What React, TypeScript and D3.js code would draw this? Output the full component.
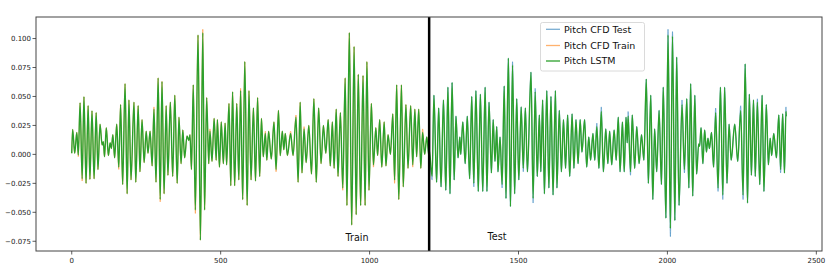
import React, { useEffect, useRef } from "react";
import * as d3 from "d3";

// CFD pitch extrema, [timestep, value]
const cfdTrain: [number, number][] = [
  [0, 0.001], [3, 0.0215], [10, 0.001], [17, 0.019], [22, -0.002], [28, 0.0445],
  [35, -0.023], [41, 0.0497], [48, -0.025], [55, 0.042], [61, -0.0215], [68, 0.0376],
  [75, -0.021], [82, 0.036], [88, -0.013], [95, 0.026], [102, 0.008], [106, 0.011],
  [110, -0.002], [116, 0.023], [123, -0.001], [129, 0.01], [133, 0.005], [138, 0.017],
  [144, -0.003], [151, 0.026], [158, -0.013], [164, 0.043], [171, -0.026], [179, 0.061],
  [186, -0.034], [192, 0.047], [199, -0.022], [209, 0.045], [215, -0.024], [223, 0.042],
  [229, -0.015], [236, 0.03], [243, -0.007], [250, 0.02], [256, 0.001], [263, 0.02],
  [270, -0.01], [276, 0.041], [283, -0.024], [290, 0.066], [297, -0.041], [303, 0.063],
  [310, -0.034], [317, 0.042], [323, -0.018], [331, 0.045], [339, -0.019], [346, 0.051],
  [354, -0.025], [360, 0.032], [367, -0.008], [373, 0.021], [379, -0.003], [387, 0.016],
  [393, 0.012], [397, 0.017], [402, -0.013], [408, 0.06], [415, -0.051], [424, 0.103],
  [432, -0.074], [440, 0.108], [446, -0.048], [453, 0.049], [460, -0.008], [464, 0.022],
  [471, -0.006], [478, 0.031], [485, -0.005], [489, 0.03], [496, -0.011], [502, 0.028],
  [509, -0.008], [515, 0.027], [520, -0.009], [528, 0.044], [534, -0.027], [540, 0.054],
  [547, -0.027], [554, 0.044], [561, -0.022], [567, 0.057], [574, -0.039], [581, 0.08],
  [589, -0.044], [595, 0.055], [602, -0.022], [610, 0.04], [617, -0.023], [624, 0.049],
  [631, -0.019], [637, 0.031], [643, -0.002], [650, 0.02], [655, -0.005], [661, 0.02],
  [670, -0.004], [679, 0.028], [686, -0.015], [694, 0.038], [700, -0.001], [707, 0.02],
  [712, 0.004], [717, 0.018], [724, -0.001], [735, 0.02], [743, -0.001], [753, 0.034],
  [760, -0.024], [767, 0.045], [773, -0.016], [780, 0.024], [787, -0.007], [796, 0.025],
  [805, -0.017], [813, 0.048], [821, -0.024], [829, 0.04], [837, -0.008], [845, 0.025],
  [853, 0.001], [861, 0.03], [868, -0.01], [875, 0.028], [881, -0.012], [888, 0.039],
  [894, -0.019], [902, 0.036], [910, -0.031], [918, 0.066], [924, -0.044], [932, 0.105],
  [940, -0.061], [948, 0.093], [955, -0.052], [962, 0.069], [970, -0.044], [978, 0.068],
  [985, -0.044], [991, 0.08], [998, -0.031], [1006, 0.044], [1013, -0.011], [1021, 0.023],
  [1027, -0.001], [1034, 0.03], [1041, -0.011], [1049, 0.028], [1055, -0.01], [1062, 0.017],
  [1070, 0.0], [1078, 0.035], [1084, -0.025], [1091, 0.06], [1098, -0.039], [1107, 0.06],
  [1113, -0.028], [1122, 0.043], [1129, -0.012], [1138, 0.042], [1145, -0.011], [1152, 0.039],
  [1158, -0.002], [1165, 0.039], [1172, -0.012], [1178, 0.022], [1185, 0.0], [1192, 0.015],
  [1199, -0.001],
];

const cfdTest: [number, number][] = [
  [1200, 0.004], [1210, -0.022], [1216, 0.051], [1225, -0.024], [1232, 0.04], [1240, -0.028],
  [1248, 0.047], [1256, -0.031], [1263, 0.058], [1270, -0.034], [1277, 0.062], [1284, -0.022],
  [1290, 0.033], [1297, -0.003], [1303, 0.015], [1306, 0.0], [1313, 0.028], [1321, -0.008],
  [1328, 0.033], [1336, -0.021], [1343, 0.05], [1350, -0.028], [1357, 0.055], [1365, -0.032],
  [1372, 0.052], [1380, -0.032], [1388, 0.058], [1394, -0.032], [1401, 0.045], [1409, -0.016],
  [1415, 0.03], [1421, -0.006], [1427, 0.024], [1431, -0.015], [1438, 0.015], [1445, -0.029],
  [1452, 0.059], [1458, -0.038], [1466, 0.083], [1473, -0.045], [1480, 0.08], [1487, -0.034],
  [1494, 0.048], [1501, -0.022], [1509, 0.041], [1516, -0.015], [1523, 0.04], [1530, -0.015],
  [1542, 0.071], [1549, -0.042], [1556, 0.057], [1563, -0.019], [1570, 0.034], [1575, -0.015],
  [1581, 0.047], [1587, -0.034], [1595, 0.055], [1602, -0.029], [1609, 0.05], [1616, -0.035],
  [1624, 0.055], [1629, -0.029], [1637, 0.038], [1644, -0.015], [1651, 0.03], [1658, -0.012],
  [1665, 0.034], [1672, -0.019], [1680, 0.035], [1686, -0.012], [1693, 0.03], [1700, -0.008],
  [1707, 0.03], [1713, 0.002], [1722, 0.03], [1729, -0.011], [1736, 0.015], [1742, -0.005],
  [1750, 0.018], [1756, -0.005], [1763, 0.027], [1770, -0.012], [1778, 0.041], [1785, -0.015],
  [1793, 0.022], [1800, -0.008], [1806, 0.02], [1813, -0.009], [1821, 0.021], [1828, -0.005],
  [1835, 0.032], [1841, -0.015], [1849, 0.028], [1855, -0.015], [1861, 0.032], [1865, 0.01],
  [1868, 0.037], [1876, -0.018], [1882, 0.034], [1890, -0.012], [1897, 0.024], [1905, -0.008],
  [1913, 0.017], [1921, -0.005], [1929, 0.065], [1936, -0.025], [1944, 0.051], [1951, -0.039],
  [1957, 0.022], [1964, -0.015], [1972, 0.038], [1980, -0.026], [1986, 0.058], [1995, -0.055],
  [2002, 0.108], [2010, -0.071], [2017, 0.106], [2025, -0.057], [2031, 0.084], [2039, -0.044],
  [2049, 0.047], [2057, -0.016], [2065, 0.048], [2072, -0.029], [2078, 0.061], [2085, -0.036],
  [2092, 0.051], [2098, -0.017], [2105, 0.009], [2108, 0.007], [2113, 0.023], [2119, -0.008],
  [2125, 0.021], [2131, 0.002], [2136, 0.014], [2141, 0.005], [2148, 0.019], [2155, -0.011],
  [2162, 0.04], [2170, -0.032], [2178, 0.058], [2186, -0.039], [2192, 0.058], [2200, -0.025],
  [2207, 0.026], [2214, -0.005], [2226, 0.026], [2236, -0.006], [2246, 0.042], [2254, -0.039],
  [2261, 0.078], [2269, -0.042], [2275, 0.052], [2282, -0.018], [2289, 0.047], [2295, -0.019],
  [2302, 0.048], [2310, -0.026], [2318, 0.051], [2324, -0.032], [2332, 0.043], [2339, -0.009],
  [2345, 0.014], [2350, -0.001], [2357, 0.018], [2366, -0.003], [2374, 0.034], [2380, -0.016],
  [2387, 0.035], [2393, -0.016], [2398, 0.041], [2399, 0.033],
];

// peaks where the LSTM prediction falls short of CFD (rest of LSTM sits on CFD)
const lstmShortfall: [number, number][] = [
  [22, -0.0005], [35, -0.021], [158, -0.011], [276, 0.039], [297, -0.039], [415, -0.048],
  [440, 0.105], [464, 0.02], [567, 0.055], [650, 0.018], [686, -0.013], [735, 0.018],
  [753, 0.032], [780, 0.022], [910, -0.029], [1013, -0.009], [1084, -0.022], [1145, -0.009],
  [1178, 0.019], [1210, -0.019], [1350, -0.025], [1445, -0.026], [1480, 0.077], [1516, -0.012],
  [1549, -0.038], [1556, 0.054], [1763, 0.024], [1778, 0.037], [1868, 0.033], [1876, -0.015],
  [2002, 0.103], [2010, -0.064], [2017, 0.102], [2049, 0.043], [2057, -0.013], [2162, 0.036],
  [2170, -0.029], [2186, -0.035], [2246, 0.038], [2254, -0.035], [2302, 0.045], [2380, -0.013],
  [2398, 0.037],
];

const splitStep = 1200;
const xTicks = [0, 500, 1000, 1500, 2000, 2500];
const yTicks = [-0.075, -0.05, -0.025, 0, 0.025, 0.05, 0.075, 0.1];
const seriesNames = ["Pitch CFD Test", "Pitch CFD Train", "Pitch LSTM"];
const colors = ["#1f77b4", "#ff7f0e", "#2ca02c"];

const W = 831;
const H = 268;
const m = { left: 36, right: 822, top: 17, bottom: 251 };

export default function App() {
  const ref = useRef<SVGSVGElement>(null);

  useEffect(() => {
    const svg = d3.select(ref.current);
    svg.selectAll("*").remove();

    const x = d3.scaleLinear().domain([-120, 2519]).range([m.left, m.right]);
    const y = d3.scaleLinear().domain([-0.0834, 0.1186]).range([m.bottom, m.top]);

    const fix = new Map(lstmShortfall.map((d) => [d[0], d[1]]));
    const lstm = cfdTrain.concat(cfdTest).map((d) => [d[0], fix.has(d[0]) ? fix.get(d[0]) : d[1]] as [number, number]);

    svg
      .append("defs")
      .append("clipPath")
      .attr("id", "plot")
      .append("rect")
      .attr("x", m.left)
      .attr("y", m.top)
      .attr("width", m.right - m.left)
      .attr("height", m.bottom - m.top);

    const line = d3
      .line<[number, number]>()
      .x((d) => x(d[0]))
      .y((d) => y(d[1]))
      .curve(d3.curveMonotoneX);

    const g = svg.append("g").attr("clip-path", "url(#plot)");
    [cfdTest, cfdTrain, lstm].forEach((data, i) => {
      g.append("path")
        .datum(data)
        .attr("d", line)
        .attr("fill", "none")
        .attr("stroke", colors[i])
        .attr("stroke-width", i < 2 ? 0.5 : 1.4)
        .attr("stroke-linejoin", "round");
    });

    // train / test split
    svg
      .append("line")
      .attr("x1", x(splitStep))
      .attr("x2", x(splitStep))
      .attr("y1", m.top)
      .attr("y2", m.bottom)
      .attr("stroke", "#000")
      .attr("stroke-width", 2.5);

    svg
      .append("rect")
      .attr("x", m.left)
      .attr("y", m.top)
      .attr("width", m.right - m.left)
      .attr("height", m.bottom - m.top)
      .attr("fill", "none")
      .attr("stroke", "#444")
      .attr("stroke-width", 1);

    const font = "DejaVu Sans, sans-serif";
    const fmt = (v: number) => d3.format(".3f")(v).replace("-", "\u2212");

    yTicks.forEach((t) => {
      svg.append("line")
        .attr("x1", m.left - 3.5).attr("x2", m.left)
        .attr("y1", y(t)).attr("y2", y(t))
        .attr("stroke", "#333").attr("stroke-width", 0.8);
      svg.append("text")
        .attr("x", m.left - 5)
        .attr("y", y(t))
        .attr("dy", "0.35em")
        .attr("text-anchor", "end")
        .attr("font-family", font)
        .attr("font-size", 7)
        .attr("fill", "#222")
        .text(fmt(t));
    });

    xTicks.forEach((t) => {
      svg.append("line")
        .attr("x1", x(t)).attr("x2", x(t))
        .attr("y1", m.bottom).attr("y2", m.bottom + 3.5)
        .attr("stroke", "#333").attr("stroke-width", 0.8);
      svg.append("text")
        .attr("x", x(t))
        .attr("y", m.bottom + 12)
        .attr("text-anchor", "middle")
        .attr("font-family", font)
        .attr("font-size", 7)
        .attr("fill", "#222")
        .text(t);
    });

    svg.append("text")
      .attr("x", 357).attr("y", 240.5)
      .attr("text-anchor", "middle")
      .attr("font-family", font).attr("font-size", 9.6)
      .attr("fill", "#111")
      .text("Train");
    svg.append("text")
      .attr("x", 497).attr("y", 240)
      .attr("text-anchor", "middle")
      .attr("font-family", font).attr("font-size", 9.6)
      .attr("fill", "#111")
      .text("Test");

    // legend
    const lg = svg.append("g");
    lg.append("rect")
      .attr("x", 540.5).attr("y", 22.5)
      .attr("width", 104).attr("height", 48.5)
      .attr("rx", 2)
      .attr("fill", "#fff").attr("fill-opacity", 0.85)
      .attr("stroke", "#d0d0d0").attr("stroke-width", 0.8);
    const rows = [29.3, 45.5, 61];
    seriesNames.forEach((name, i) => {
      lg.append("line")
        .attr("x1", 546).attr("x2", 560)
        .attr("y1", rows[i]).attr("y2", rows[i])
        .attr("stroke", colors[i])
        .attr("stroke-opacity", i < 2 ? 0.6 : 1)
        .attr("stroke-width", 1.3);
      lg.append("text")
        .attr("x", 564).attr("y", rows[i])
        .attr("dy", "0.35em")
        .attr("font-family", font).attr("font-size", 9.5)
        .attr("fill", "#111")
        .text(name);
    });
  }, []);

  return (
    <svg
      ref={ref}
      width={W}
      height={H}
      style={{ position: "absolute", left: 0, top: 0, background: "#fff" }}
    />
  );
}
